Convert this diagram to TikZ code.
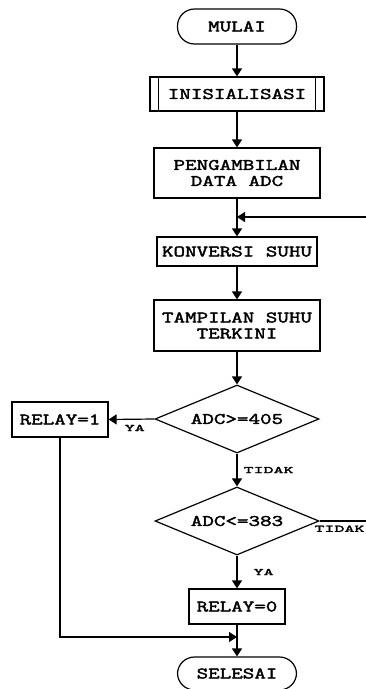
\documentclass[tikz,border=0pt]{standalone}
\usepackage{fontspec}
\usetikzlibrary{arrows.meta,shapes.geometric}
\newfontfamily\flowfont[FakeStretch=1.4,FakeBold=2.5]{Latin Modern Mono}
\newfontfamily\labfont[FakeStretch=1.9,FakeBold=2.5]{Latin Modern Mono}
\begin{document}
\begin{tikzpicture}[x=1pt,y=-1pt,
  line width=1.2pt,
  every node/.style={inner sep=0pt},
  txt/.style={font=\flowfont\fontsize{16}{16}\selectfont, align=center},
  box/.style={txt, draw, rectangle, minimum width=#1},
  term/.style={txt, draw, rectangle, rounded corners=17pt, minimum width=119pt, minimum height=35pt},
  dec/.style={txt, draw, diamond, aspect=2.4, minimum width=164pt, minimum height=68pt},
  lab/.style={font=\labfont\fontsize{10}{10}\selectfont},
  arr/.style={-{Triangle[length=8pt,width=10pt]}}
]
\useasboundingbox (0,0) rectangle (366,689);
\clip (0,0) rectangle (366,689);
\node[term] (mulai) at (237,26.5) {MULAI};
\node[box=174pt, minimum height=34pt] (init) at (237,94) {INISIALISASI};
\draw ([xshift=9pt]init.north west) -- ([xshift=9pt]init.south west);
\draw ([xshift=-9pt]init.north east) -- ([xshift=-9pt]init.south east);
\node[box=166pt, minimum height=50pt] (ambil) at (237,173) {PENGAMBILAN\\DATA ADC};
\node[box=160pt, minimum height=29pt] (konv) at (237,251.5) {KONVERSI SUHU};
\node[box=166pt, minimum height=51pt] (tampil) at (237,325.5) {TAMPILAN SUHU\\TERKINI};
\node[dec] (d1) at (237,419) {ADC>=405};
\node[box=96pt, minimum height=35pt] (r1) at (60,419.5) {RELAY=1};
\node[dec] (d2) at (237,521) {ADC<=383};
\node[box=96pt, minimum height=35pt] (r0) at (237,606.5) {RELAY=0};
\node[term, minimum height=33pt] (selesai) at (237,673.5) {SELESAI};

\coordinate (loopin) at (237,217);
\coordinate (join) at (237,637);
\coordinate (farR) at (385,521);

\draw[arr] (mulai) -- (init);
\draw[arr] (init) -- (ambil);
\draw[arr] (ambil) -- (konv);
\draw[arr] (konv) -- (tampil);
\draw[arr] (tampil) -- (d1);
\draw[arr] (d1.west) -- (r1.east) node[lab, pos=0.43, below=5pt] (ya1) {YA};
\draw[arr] (d1.south) -- (d2.north) node[lab, midway, right=6pt] (tidak1) {TIDAK};
\draw[arr] (d2.south) -- (r0.north) node[lab, midway, right=16pt] (ya2) {YA};
\draw[arr] (r0) -- (selesai);
\draw[arr] (r1.south) |- (join);
\draw[arr] (d2.east) -- (farR) |- (loopin);
\node[lab, anchor=north east] (tidak2) at (365,525) {TIDAK};
\end{tikzpicture}
\end{document}
